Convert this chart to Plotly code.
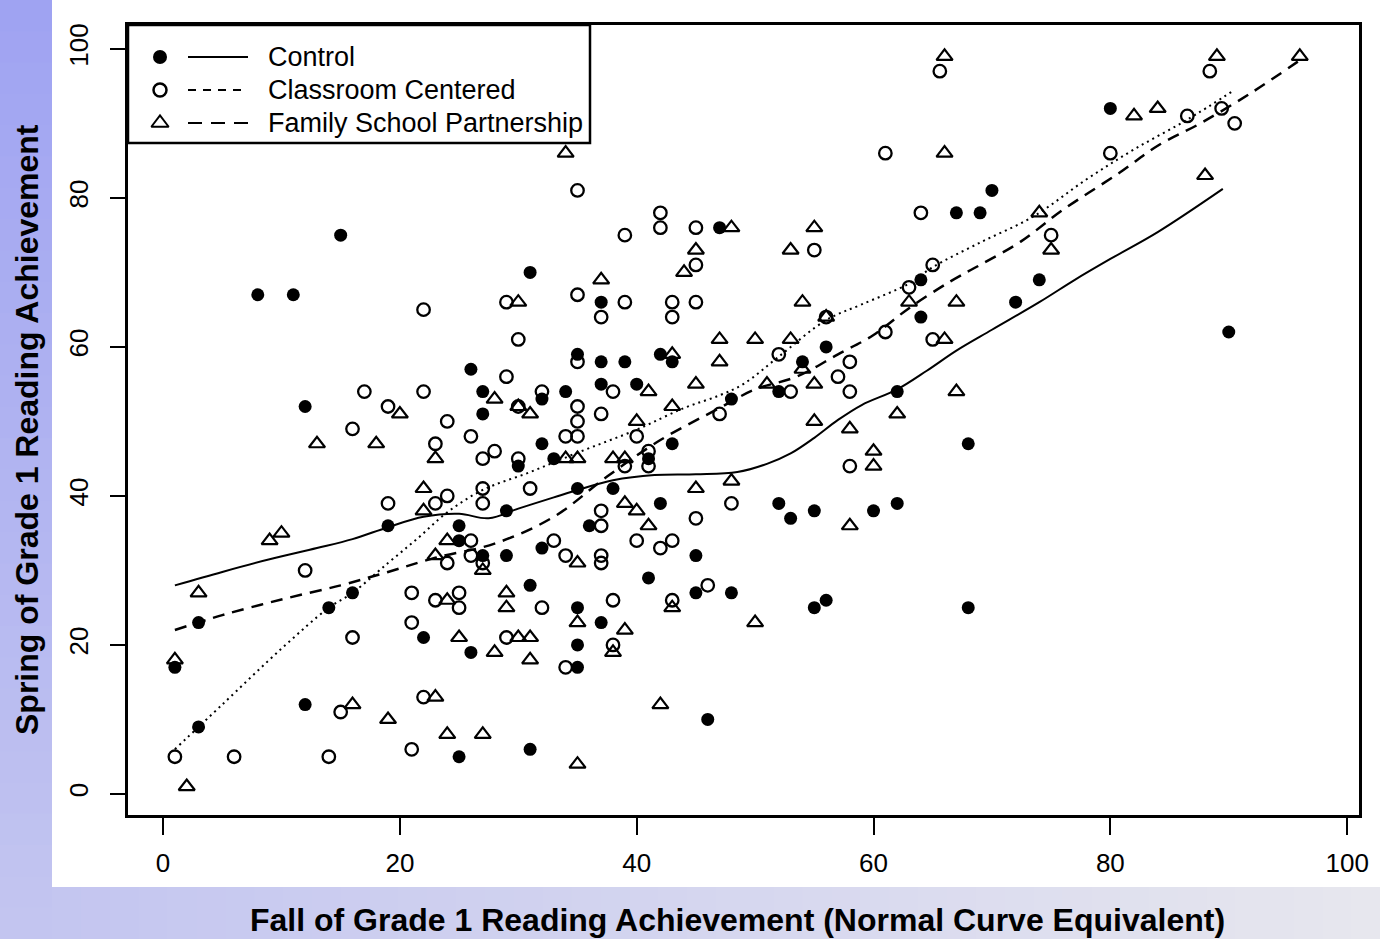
import plotly.graph_objects as go

# ---- Fall (x) and Spring (y) scores, Grade 1 reading (NCE) ----
control_fall = [1, 3, 3, 8, 11, 15, 12, 12, 14, 16, 19, 22, 25, 25, 25, 26, 27, 27, 26, 27,
                29, 29, 30, 31, 31, 31, 32, 32, 32, 33, 34, 35, 35, 35, 35, 35, 36, 37, 37, 37,
                37, 38, 39, 40, 41, 41, 42, 42, 43, 43, 45, 45, 46, 47, 48, 48, 52, 52, 53, 54,
                55, 55, 56, 56, 60, 62, 62, 64, 64, 67, 69, 70, 68, 68, 72, 74, 80, 90]
control_spring = [17, 23, 9, 67, 67, 75, 52, 12, 25, 27, 36, 21, 5, 36, 34, 57, 54, 51, 19, 32,
                  38, 32, 44, 70, 28, 6, 53, 47, 33, 45, 54, 59, 41, 25, 20, 17, 36, 66, 58, 55,
                  23, 41, 58, 55, 45, 29, 59, 39, 58, 47, 32, 27, 10, 76, 53, 27, 54, 39, 37, 58,
                  38, 25, 26, 60, 38, 39, 54, 69, 64, 78, 78, 81, 47, 25, 66, 69, 92, 62]

classroom_fall = [1, 6, 12, 14, 15, 16, 16, 17, 19, 19, 21, 21, 21, 22, 22, 22, 23, 23, 23, 24,
                  24, 24, 25, 25, 26, 26, 26, 27, 27, 27, 27, 28, 29, 29, 29, 30, 30, 30, 31, 32,
                  32, 33, 34, 34, 34, 35, 35, 35, 35, 35, 35, 37, 37, 37, 37, 37, 37, 38, 38, 38,
                  39, 39, 39, 40, 40, 41, 41, 42, 42, 42, 43, 43, 43, 43, 45, 45, 45, 45, 46, 47,
                  48, 52, 53, 55, 56, 57, 58, 58, 58, 61, 61, 63, 64, 65, 65, 65.6, 75, 80, 86.5, 88.4,
                  89.4, 90.5]
classroom_spring = [5, 5, 30, 5, 11, 49, 21, 54, 52, 39, 27, 23, 6, 65, 54, 13, 47, 39, 26, 50,
                    40, 31, 27, 25, 48, 34, 32, 45, 41, 39, 31, 46, 66, 56, 21, 61, 52, 45, 41, 54,
                    25, 34, 48, 32, 17, 81, 67, 58, 52, 50, 48, 64, 51, 38, 36, 32, 31, 54, 26, 20,
                    75, 66, 44, 48, 34, 46, 44, 78, 76, 33, 66, 64, 34, 26, 76, 71, 66, 37, 28, 51,
                    39, 59, 54, 73, 64, 56, 58, 54, 44, 86, 62, 68, 78, 71, 61, 97, 75, 86, 91, 97,
                    92, 90]

family_fall = [1, 2, 3, 9, 10, 13, 16, 18, 19, 20, 22, 22, 23, 23, 23, 24, 24, 24, 25, 27,
               27, 28, 28, 29, 29, 30, 30, 30, 31, 31, 31, 34, 34, 35, 35, 35, 35, 37, 38, 38,
               39, 39, 39, 40, 40, 41, 41, 42, 43, 43, 43, 44, 45, 45, 45, 47, 47, 48, 48, 50,
               50, 51, 53, 53, 54, 54, 55, 55, 55, 56, 58, 58, 60, 60, 62, 63, 66, 66, 66, 67,
               67, 74, 75, 82, 84, 88, 89, 96]
family_spring = [18, 1, 27, 34, 35, 47, 12, 47, 10, 51, 41, 38, 45, 32, 13, 34, 26, 8, 21, 30,
                 8, 53, 19, 27, 25, 66, 52, 21, 51, 21, 18, 86, 45, 45, 31, 23, 4, 69, 45, 19,
                 45, 39, 22, 50, 38, 54, 36, 12, 59, 52, 25, 70, 73, 55, 41, 61, 58, 76, 42, 61,
                 23, 55, 73, 61, 66, 57, 76, 55, 50, 64, 49, 36, 46, 44, 51, 66, 99, 86, 61, 66,
                 54, 78, 73, 91, 92, 83, 99, 99]

# ---- Smoothed (lowess) trend per group ----
control_smooth_x = [1, 5, 9, 13, 16, 19, 22, 25, 27.5, 30, 33, 35, 38, 41.5, 45, 48.5, 51, 53,
                    55, 57, 59, 62, 64.5, 67, 70, 74, 77, 80, 84, 89.5]
control_smooth_y = [28, 29.8, 31.5, 33, 34.2, 35.8, 37.2, 37.6, 37.0, 38.3, 39.8, 40.8, 42.1,
                    42.8, 42.9, 43.2, 44.3, 45.7, 47.8, 50.2, 52.2, 54.3, 56.8, 59.5, 62.3, 66,
                    69, 71.8, 75.4, 81.2]
classroom_smooth_x = [1, 5, 10, 14, 16, 19, 21.5, 24, 27, 31, 35, 40, 44, 47, 49, 52, 56, 59,
                      63, 65, 69, 73.5, 78, 82, 86.5, 90.5]
classroom_smooth_y = [6, 12, 19.5, 25, 27, 31, 34.3, 37.8, 40.8, 43.2, 45.8, 48.9, 51.8, 53.5,
                      55, 58.7, 63.6, 65.7, 68.5, 70.7, 74, 77.5, 82.5, 86.5, 90.5, 94.5]
family_smooth_x = [1, 5, 10, 15, 19, 23, 28, 33, 37.5, 42, 47, 50, 53.5, 57, 60, 63, 66.5, 69,
                   72.4, 76, 80.8, 84, 87.6, 92, 96.3]
family_smooth_y = [22, 24, 26.1, 28, 29.8, 31.7, 33.6, 37.2, 42.6, 47.5, 51.8, 54.3, 56, 59,
                   61.6, 65.2, 68.8, 71, 74.1, 78.4, 83.4, 87, 90, 94.2, 98.8]

axis_ticks = [0, 20, 40, 60, 80, 100]
group_names = ["Control", "Classroom Centered", "Family School Partnership"]
x_title = "Fall of Grade 1 Reading Achievement (Normal Curve Equivalent)"
y_title = "Spring of Grade 1 Reading Achievement"

FONT = "Liberation Sans, Arial, Helvetica, sans-serif"
W, H = 1380, 939
L, R, T, B = 128, 1359, 25, 815  # plot box edges in page pixels


def px(xp):
    return (xp - L) / (R - L)


def py(yp):
    return (B - yp) / (B - T)


fig = go.Figure()

fig.add_trace(go.Scatter(x=control_fall, y=control_spring, mode="markers",
                         marker=dict(symbol="circle", size=13, color="black"),
                         showlegend=False))
fig.add_trace(go.Scatter(x=classroom_fall, y=classroom_spring, mode="markers",
                         marker=dict(symbol="circle-open", size=12.5, color="black",
                                     line=dict(width=2.3, color="black")),
                         showlegend=False))
fig.add_trace(go.Scatter(x=family_fall, y=family_spring, mode="markers",
                         marker=dict(symbol="triangle-up-open", size=14, color="black",
                                     line=dict(width=2.2, color="black")),
                         showlegend=False))

fig.add_trace(go.Scatter(x=control_smooth_x, y=control_smooth_y, mode="lines",
                         line=dict(color="black", width=2, shape="spline"), showlegend=False))
fig.add_trace(go.Scatter(x=classroom_smooth_x, y=classroom_smooth_y, mode="lines",
                         line=dict(color="black", width=2, dash="2px,4px", shape="spline"),
                         showlegend=False))
fig.add_trace(go.Scatter(x=family_smooth_x, y=family_smooth_y, mode="lines",
                         line=dict(color="black", width=2.5, dash="12px,8px", shape="spline"),
                         showlegend=False))

# ---- key box drawn on an overlay axis in plot-fraction units ----
key_rows = [py(57), py(90), py(123)]
key_symbols = [dict(symbol="circle", size=14, color="black"),
               dict(symbol="circle-open", size=13, color="black", line=dict(width=2.5, color="black")),
               dict(symbol="triangle-up-open", size=15, color="black", line=dict(width=2, color="black"))]
for yk, sym in zip(key_rows, key_symbols):
    fig.add_trace(go.Scatter(x=[px(160)], y=[yk], mode="markers", marker=sym,
                             xaxis="x2", yaxis="y2", showlegend=False, hoverinfo="skip"))

shapes = []

# page background: soft diagonal lavender gradient behind a white panel
c0 = (158, 162, 242)
c1 = (232, 232, 238)


def grad(xp, yp):
    t = 0.5 * xp / W + 0.5 * yp / H
    r, g, b = (round(a + (bb - a) * t) for a, bb in zip(c0, c1))
    return f"rgb({r},{g},{b})"


n = 30
for i in range(n):
    y0 = H * i / n
    y1 = H * (i + 1) / n + 1
    shapes.append(dict(type="rect", xref="paper", yref="paper", layer="below",
                       x0=px(0), x1=px(53), y0=py(y1), y1=py(y0),
                       fillcolor=grad(26, (y0 + y1) / 2), line=dict(width=0)))
n = 46
for i in range(n):
    x0 = 52 + (W - 52) * i / n
    x1 = 52 + (W - 52) * (i + 1) / n + 1
    shapes.append(dict(type="rect", xref="paper", yref="paper", layer="below",
                       x0=px(x0), x1=px(x1), y0=py(H), y1=py(886),
                       fillcolor=grad((x0 + x1) / 2, 913), line=dict(width=0)))
shapes.append(dict(type="rect", xref="paper", yref="paper", layer="below",
                   x0=px(52), x1=px(W + 2), y0=py(887), y1=py(-2),
                   fillcolor="white", line=dict(width=0)))

# key frame and line samples
shapes.append(dict(type="rect", xref="paper", yref="paper", layer="below",
                   x0=0, x1=px(590), y0=py(143), y1=1,
                   fillcolor="white", line=dict(color="black", width=2.5)))
key_dashes = ["solid", "8px,7px", "14px,9px"]
for yk, d in zip(key_rows, key_dashes):
    shapes.append(dict(type="line", xref="paper", yref="paper",
                       x0=px(188), x1=px(248), y0=yk, y1=yk,
                       line=dict(color="black", width=2, dash=d)))

annotations = []
for yk, name in zip(key_rows, group_names):
    annotations.append(dict(text=name, xref="paper", yref="paper", x=px(266), y=yk,
                            xanchor="left", yanchor="middle", showarrow=False,
                            font=dict(family=FONT, size=27, color="black")))
annotations.append(dict(text="<b>" + x_title + "</b>", xref="paper", yref="paper",
                        x=px(737), y=py(920), xanchor="center", yanchor="middle",
                        showarrow=False, font=dict(family=FONT, size=32, color="black")))
annotations.append(dict(text="<b>" + y_title + "</b>", xref="paper", yref="paper",
                        x=px(27), y=py(430), xanchor="center", yanchor="middle",
                        textangle=-90, showarrow=False,
                        font=dict(family=FONT, size=32, color="black")))

axis_common = dict(showgrid=False, zeroline=False, showline=True, linecolor="black",
                   linewidth=3, mirror=True, ticks="outside", tickcolor="black",
                   tickwidth=2, tickvals=axis_ticks,
                   tickfont=dict(family=FONT, size=26, color="black"))

fig.update_layout(
    width=W, height=H, autosize=False,
    margin=dict(l=L, r=W - R, t=T, b=H - B, pad=0),
    paper_bgcolor="white", plot_bgcolor="white",
    xaxis=dict(range=[-2.96, 101.0], ticklen=17, ticklabelstandoff=6, **axis_common),
    yaxis=dict(range=[-2.82, 103.2], ticklen=15, tickangle=-90, ticklabelstandoff=12,
               **axis_common),
    xaxis2=dict(overlaying="x", anchor="y2", range=[0, 1], visible=False, fixedrange=True),
    yaxis2=dict(overlaying="y", anchor="x2", range=[0, 1], visible=False, fixedrange=True),
    shapes=shapes,
    annotations=annotations,
    showlegend=False,
)

fig.write_html("out.html")
